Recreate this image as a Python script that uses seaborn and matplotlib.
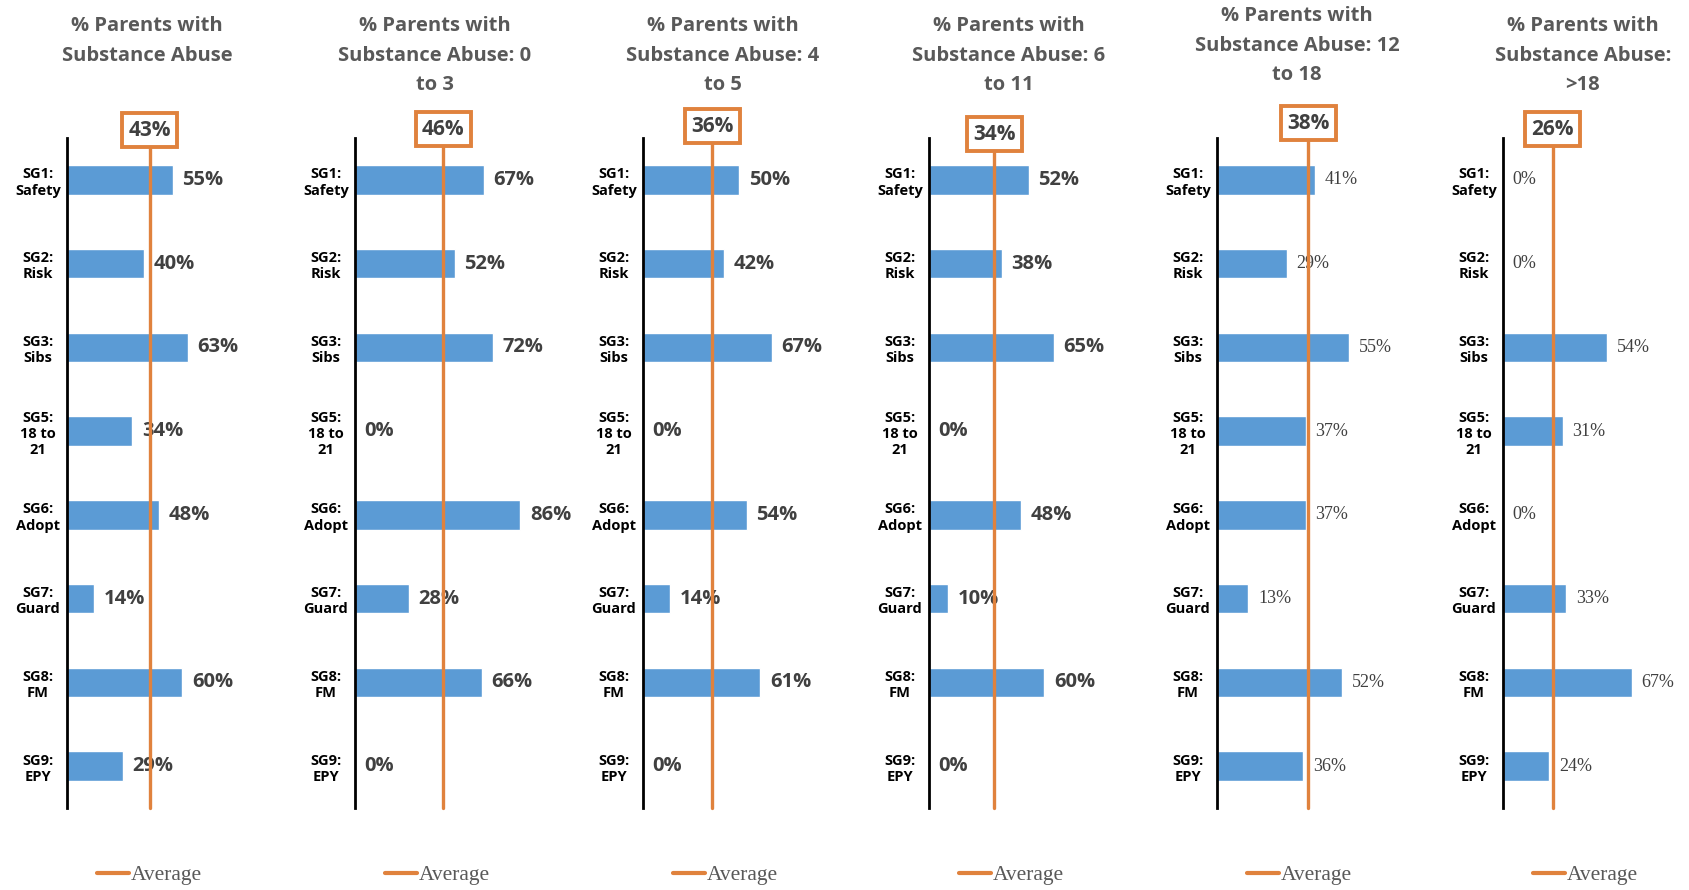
import matplotlib
matplotlib.use("Agg")
import matplotlib.pyplot as plt
import matplotlib.transforms as mtransforms
from matplotlib.lines import Line2D
import seaborn as sns

# categories (y axis) shared by all panels
categories = ["SG1:\nSafety", "SG2:\nRisk", "SG3:\nSibs", "SG5:\n18 to\n21",
              "SG6:\nAdopt", "SG7:\nGuard", "SG8:\nFM", "SG9:\nEPY"]

titles = [
    "% Parents with\nSubstance Abuse",
    "% Parents with\nSubstance Abuse: 0\nto 3",
    "% Parents with\nSubstance Abuse: 4\nto 5",
    "% Parents with\nSubstance Abuse: 6\nto 11",
    "% Parents with\nSubstance Abuse: 12\nto 18",
    "% Parents with\nSubstance Abuse:\n>18",
]

vals_all = [55, 40, 63, 34, 48, 14, 60, 29]
vals_0_3 = [67, 52, 72, 0, 86, 28, 66, 0]
vals_4_5 = [50, 42, 67, 0, 54, 14, 61, 0]
vals_6_11 = [52, 38, 65, 0, 48, 10, 60, 0]
vals_12_18 = [41, 29, 55, 37, 37, 13, 52, 36]
vals_gt18 = [0, 0, 54, 31, 0, 33, 67, 24]
series = [vals_all, vals_0_3, vals_4_5, vals_6_11, vals_12_18, vals_gt18]

averages = [43, 46, 36, 34, 38, 26]

BLUE = "#5B9BD5"
ORANGE = "#E0823D"
GRAY = "#595959"
DARK = "#404040"

sns.set_style("white")
plt.rcParams["font.family"] = ["Open Sans", "DejaVu Sans"]

W, H = 1690, 890
fig = plt.figure(figsize=(W / 100, H / 100), dpi=100)

axis_x = [67, 355, 643, 929, 1217, 1503]
xmax = [100, 100, 100, 100, 80, 100]
title_top = [16, 16, 16, 16, 6, 16]
box_y = [130, 129, 126, 134, 123, 129]
ax_top, ax_bot, ax_w = 138, 808, 192

for i in range(6):
    ax = fig.add_axes([axis_x[i] / W, 1 - ax_bot / H, ax_w / W, (ax_bot - ax_top) / H])
    sns.barplot(x=series[i], y=categories, orient="h", color=BLUE, saturation=1,
                width=0.35, ax=ax, zorder=2)
    ax.set_xlim(0, xmax[i])
    ax.set_ylim(7.5, -0.5)
    ax.set_xlabel("")
    ax.set_ylabel("")
    ax.set_xticks([])
    for s in ["top", "right", "bottom"]:
        ax.spines[s].set_visible(False)
    ax.spines["left"].set_color("black")
    ax.spines["left"].set_linewidth(2)
    ax.spines["left"].set_zorder(4)
    ax.tick_params(axis="y", length=0, pad=21)
    for lab in ax.get_yticklabels():
        lab.set_horizontalalignment("center")
        lab.set_multialignment("center")
        lab.set_fontsize(10.5)
        lab.set_fontweight("bold")
        lab.set_color("black")

    serif = i >= 4
    for j, v in enumerate(series[i]):
        if serif:
            ax.annotate(f"{v}%", (v, j), xytext=(7, 0), textcoords="offset points",
                        va="center", ha="left", fontsize=13, color=DARK,
                        family=["Liberation Serif", "DejaVu Serif"])
        else:
            ax.annotate(f"{v}%", (v, j), xytext=(7, 0), textcoords="offset points",
                        va="center", ha="left", fontsize=14.5, color=DARK,
                        fontweight="bold")

    avg = averages[i]
    ax.axvline(avg, ymin=0, ymax=1, color=ORANGE, lw=2.4, zorder=3, clip_on=False)
    trans = mtransforms.blended_transform_factory(ax.transData, ax.transAxes)
    yb = 1 + (ax_top - box_y[i]) / (ax_bot - ax_top)
    ax.text(avg, yb, f"{avg}%", transform=trans, ha="center", va="center",
            fontsize=15, fontweight="bold", color=DARK, zorder=5,
            bbox=dict(boxstyle="square,pad=0.3", fc="white", ec=ORANGE, lw=2.8))

    fig.text((axis_x[i] + 80) / W, 1 - title_top[i] / H, titles[i], ha="center",
             va="top", fontsize=14.5, fontweight="bold", color=GRAY, linespacing=1.65)

    handle = Line2D([], [], color=ORANGE, lw=3)
    ax.legend([handle], ["Average"], loc="center", bbox_to_anchor=(0.43, -0.1),
              frameon=False, handlelength=1.5, handletextpad=0.1,
              prop={"family": ["Liberation Serif", "DejaVu Serif"], "size": 15.5},
              labelcolor=GRAY)

fig.savefig("out.png", dpi=100)
